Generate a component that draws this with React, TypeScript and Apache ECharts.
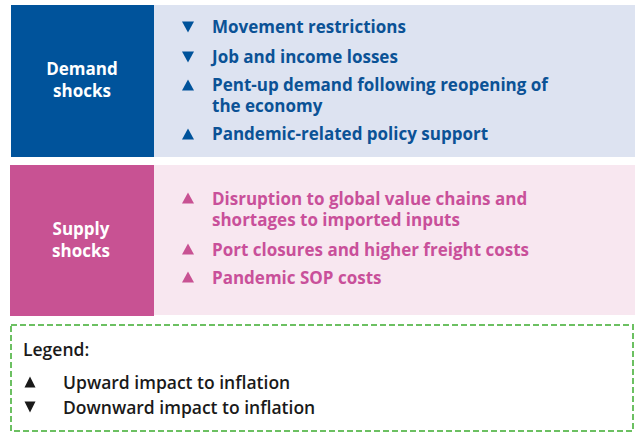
import React, { useEffect, useRef } from "react";
import * as echarts from "echarts";

const demandTitle = ["Demand", "shocks"];
const supplyTitle = ["Supply", "shocks"];
const demandItems = [
  { dir: "down", text: "Movement restrictions" },
  { dir: "down", text: "Job and income losses" },
  { dir: "up", text: "Pent-up demand following reopening of\nthe economy" },
  { dir: "up", text: "Pandemic-related policy support" },
];
const supplyItems = [
  { dir: "up", text: "Disruption to global value chains and\nshortages to imported inputs" },
  { dir: "up", text: "Port closures and higher freight costs" },
  { dir: "up", text: "Pandemic SOP costs" },
];
const legendTitle = "Legend:";
const legendItems = [
  { dir: "up", text: "Upward impact to inflation" },
  { dir: "down", text: "Downward impact to inflation" },
];

const FONT = "Open Sans";
const BLUE = "#00539B";
const BLUE_LIGHT = "#DDE3F1";
const PINK = "#C85293";
const PINK_LIGHT = "#F8E7F0";
const GREEN = "#6CC062";

function tri(cx: number, cy: number, dir: string, fill: string, w = 6, h = 5.5) {
  const pts = dir === "up"
    ? [[cx - w, cy + h], [cx + w, cy + h], [cx, cy - h]]
    : [[cx - w, cy - h], [cx + w, cy - h], [cx, cy + h]];
  return { type: "polygon", shape: { points: pts }, style: { fill } };
}

function lines(text: string, x: number, y: number, gap: number, style: any) {
  return text.split("\n").map((t, k) => ({
    type: "text", x, y: y + k * gap,
    style: { ...style, text: t, lineHeight: 16, verticalAlign: "middle" },
  }));
}

export default function App() {
  const ref = useRef<HTMLDivElement>(null);
  useEffect(() => {
    document.body.style.margin = "0";
    const chart = echarts.init(ref.current!, null, { renderer: "svg" });
    const els: any[] = [];
    els.push({ type: "rect", shape: { x: 11, y: 5, width: 143, height: 152 }, style: { fill: BLUE } });
    els.push({ type: "rect", shape: { x: 154, y: 5, width: 481, height: 152 }, style: { fill: BLUE_LIGHT } });
    els.push({ type: "rect", shape: { x: 10, y: 165, width: 144, height: 151 }, style: { fill: PINK } });
    els.push({ type: "rect", shape: { x: 154, y: 165, width: 481, height: 150 }, style: { fill: PINK_LIGHT } });
    els.push({
      type: "rect",
      shape: { x: 11, y: 325, width: 622, height: 106 },
      style: { fill: "none", stroke: GREEN, lineWidth: 2, lineDash: [6, 3] },
    });
    const titleStyle = {
      fill: "#fff", fontFamily: FONT, fontWeight: "bold", fontSize: 17, align: "center",
    };
    els.push(...lines(demandTitle.join("\n"), 82, 68, 22, titleStyle));
    els.push(...lines(supplyTitle.join("\n"), 81, 228, 22, titleStyle));

    const itemStyle = { fontFamily: FONT, fontWeight: "bold", fontSize: 17, align: "left" };
    const demandY = [26, 56, 84, 133];
    demandItems.forEach((it, i) => {
      els.push(tri(188, demandY[i] + 1, it.dir, BLUE));
      els.push(...lines(it.text, 212, demandY[i], 21, { ...itemStyle, fill: "#0B5296" }));
    });
    const supplyY = [198, 249, 277];
    supplyItems.forEach((it, i) => {
      els.push(tri(188, supplyY[i], it.dir, PINK));
      els.push(...lines(it.text, 212, supplyY[i], 21, { ...itemStyle, fill: "#C9509A" }));
    });
    const legStyle = { fill: "#1a1a1a", fontFamily: FONT, fontWeight: 600, fontSize: 17.5, align: "left" };
    els.push(...lines(legendTitle, 23, 349, 0, legStyle));
    const legY = [382, 407];
    legendItems.forEach((it, i) => {
      els.push(tri(30, legY[i], it.dir, "#1a1a1a", 5.5, 5.5));
      els.push(...lines(it.text, 63, legY[i], 0, legStyle));
    });
    chart.setOption({ animation: false, graphic: { elements: els } });
    return () => chart.dispose();
  }, []);
  return <div ref={ref} style={{ width: 635, height: 434 }} />;
}
